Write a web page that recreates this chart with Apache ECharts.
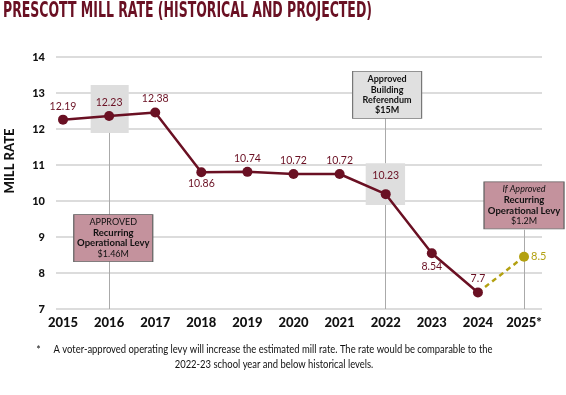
<!DOCTYPE html>
<html>
<head>
<meta charset="utf-8">
<script src="https://cdn.jsdelivr.net/npm/echarts@6/dist/echarts.min.js"></script>
<style>html,body{margin:0;padding:0;background:#fff}#c{width:566px;height:395px}</style>
</head>
<body>
<div id="c"></div>
<script>
const titleText = 'PRESCOTT MILL RATE (HISTORICAL AND PROJECTED)';
const yAxisName = 'MILL RATE';
const years = [2015, 2016, 2017, 2018, 2019, 2020, 2021, 2022, 2023, 2024, 2025];
const xLabels = ['2015', '2016', '2017', '2018', '2019', '2020', '2021', '2022', '2023', '2024', '2025*'];
const historical = [12.26, 12.36, 12.46, 10.80, 10.81, 10.75, 10.75, 10.19, 8.55, 7.46];
const historicalLabels = ['12.19', '12.23', '12.38', '10.86', '10.74', '10.72', '10.72', '10.23', '8.54', '7.7'];
const projectedYears = [2024, 2025];
const projected = [7.46, 8.45];
const projectedLabels = ['', '8.5'];
const footnote1 = 'A voter-approved operating levy will increase the estimated mill rate. The rate would be comparable to the';
const footnote2 = '2022-23 school year and below historical levels.';

const MAROON = '#6a1023';
const OLIVE = '#b3a111';
const PINK = '#c4929d';
const FONT = 'Lato';

const labelPos = ['top','top','top','bottom','top','top','top','top','bottom','top'];
const labelDist = [3,3,3,1,3,3,3,8,3,3];

const chart = echarts.init(document.getElementById('c'), null, {renderer: 'canvas'});

// text width fitting
const cv = document.createElement('canvas').getContext('2d');
const titleFont = 'bold 22px "DejaVu Sans Condensed"';
cv.font = titleFont;
const titleScale = 369 / cv.measureText(titleText).width;
const noteFont = '10.5px Lato';
cv.font = noteFont;
const noteScale = 439 / cv.measureText(footnote1).width;

const histData = historical.map((v, i) => ({
  value: [years[i], v],
  label: {position: labelPos[i], distance: labelDist[i]}
}));
const projData = projected.map((v, i) => ({
  value: [projectedYears[i], v],
  symbol: i === 0 ? 'none' : 'circle'
}));

chart.setOption({
  animation: false,
  grid: {left: 56, right: 24, top: 57, bottom: 86},
  xAxis: {
    type: 'value', min: 2014.848, max: 2025.39,
    axisLine: {show: false}, axisTick: {show: false}, splitLine: {show: false},
    axisLabel: {
      customValues: years, margin: 7,
      formatter: v => xLabels[years.indexOf(Math.round(v))],
      fontFamily: FONT, fontWeight: 900, fontSize: 13, color: '#111'
    }
  },
  yAxis: {
    type: 'value', min: 7, max: 14, interval: 1,
    axisLine: {show: false}, axisTick: {show: false},
    splitLine: {lineStyle: {color: '#dcdcdc', width: 2}},
    axisLabel: {margin: 11, fontFamily: FONT, fontWeight: 900, fontSize: 11, color: '#111'}
  },
  graphic: [
    {type: 'text', x: 3, y: 0, scaleX: titleScale, scaleY: 1,
     style: {text: titleText, font: titleFont, fill: MAROON, textVerticalAlign: 'top'}},
    {type: 'text', x: 9.5, y: 161, rotation: Math.PI / 2,
     style: {text: yAxisName, fontFamily: FONT, fontWeight: 900, fontSize: 13, fill: '#111',
             textAlign: 'center', textVerticalAlign: 'middle'}},
    {type: 'text', x: 38.5, y: 351,
     style: {text: '*', fontFamily: FONT, fontSize: 10.5, fill: '#111', textAlign: 'center', textVerticalAlign: 'middle'}},
    {type: 'text', x: 273, y: 350, scaleX: noteScale,
     style: {text: footnote1, font: noteFont, fill: '#111', textAlign: 'center', textVerticalAlign: 'middle'}},
    {type: 'text', x: 274, y: 364.5, scaleX: noteScale,
     style: {text: footnote2, font: noteFont, fill: '#111', textAlign: 'center', textVerticalAlign: 'middle'}}
  ],
  series: [
    {
      type: 'line', z: 2,
      data: projData,
      symbolSize: 10,
      lineStyle: {color: OLIVE, width: 2.5, type: [5, 4]},
      itemStyle: {color: OLIVE},
      label: {
        show: true, position: 'right', distance: 2,
        formatter: p => projectedLabels[p.dataIndex],
        fontFamily: FONT, fontSize: 11, color: OLIVE
      },
      markLine: {
        z: 1, silent: true, symbol: 'none', label: {show: false},
        lineStyle: {color: '#aaa', width: 1, type: 'solid'},
        data: [
          [{coord: [2016, 7]}, {coord: [2016, 11.89]}],
          [{coord: [2022, 7]}, {coord: [2022, 9.89]}],
          [{coord: [2022, 11.05]}, {coord: [2022, 12.3]}],
          [{coord: [2025, 7]}, {coord: [2025, 9.2]}]
        ]
      },
      markArea: {
        z: 1, silent: true,
        itemStyle: {color: '#dedede'},
        data: [
          [{coord: [2015.6, 13.22]}, {coord: [2016.425, 11.89]}],
          [{coord: [2021.566, 11.05]}, {coord: [2022.42, 9.89]}]
        ]
      }
    },
    {
      type: 'line', z: 3,
      data: histData,
      symbol: 'circle', symbolSize: 10,
      lineStyle: {color: MAROON, width: 2.5},
      itemStyle: {color: MAROON},
      label: {
        show: true,
        formatter: p => historicalLabels[p.dataIndex],
        fontFamily: FONT, fontSize: 10.5, color: MAROON
      },
      markPoint: {
        silent: true,
        data: [
          {coord: [2016.09, 8.97], symbol: 'rect', symbolSize: [79, 47],
           itemStyle: {color: PINK, borderColor: '#666', borderWidth: 1},
           label: {show: true, position: 'inside', lineHeight: 10.7,
             formatter: '{a|APPROVED}\n{b|Recurring}\n{b|Operational Levy}\n{a|$1.46M}',
             rich: {a: {fontFamily: FONT, fontSize: 9, color: '#111', lineHeight: 10.7},
                    b: {fontFamily: FONT, fontSize: 9.5, fontWeight: 'bold', color: '#111', lineHeight: 10.7}}}},
          {coord: [2022.03, 12.95], symbol: 'rect', symbolSize: [69, 47],
           itemStyle: {color: '#e0e0e0', borderColor: '#777', borderWidth: 1},
           label: {show: true, position: 'inside', lineHeight: 10.3,
             formatter: '{a|Approved}\n{a|Building}\n{a|Referendum}\n{a|$15M}',
             rich: {a: {fontFamily: FONT, fontSize: 9, fontWeight: 'bold', color: '#111', lineHeight: 10.3}}}},
          {coord: [2025.0, 9.88], symbol: 'rect', symbolSize: [80, 47],
           itemStyle: {color: PINK, borderColor: '#666', borderWidth: 1},
           label: {show: true, position: 'inside', lineHeight: 10.7,
             formatter: '{i|If Approved}\n{b|Recurring}\n{b|Operational Levy}\n{a|$1.2M}',
             rich: {i: {fontFamily: FONT, fontSize: 9, fontStyle: 'italic', color: '#111', lineHeight: 10.7},
                    a: {fontFamily: FONT, fontSize: 9, color: '#111', lineHeight: 10.7},
                    b: {fontFamily: FONT, fontSize: 9.5, fontWeight: 'bold', color: '#111', lineHeight: 10.7}}}}
        ]
      }
    }
  ]
});
</script>
</body>
</html>
